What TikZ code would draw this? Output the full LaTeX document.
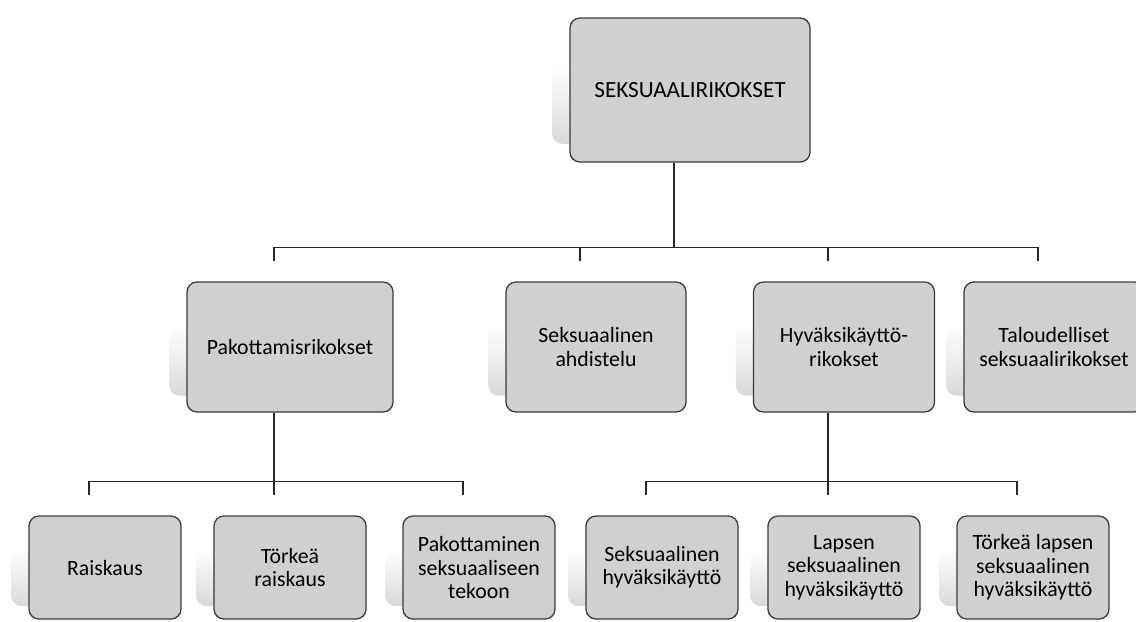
\documentclass[tikz,border=0pt]{standalone}
\usepackage{fontspec}
\setmainfont{Carlito}
\usetikzlibrary{calc}
\pgfdeclarelayer{bg}
\pgfsetlayers{bg,main}
\definecolor{boxfill}{RGB}{208,208,208}
\definecolor{boxline}{RGB}{58,58,58}
\definecolor{shadowgray}{RGB}{216,216,216}
\tikzset{
    box/.style={rectangle, rounded corners=0.25cm, draw=boxline, fill=boxfill,
    	line width=0.9pt, align=center, inner sep=2pt,
    	font=\fontsize{15.5}{16.6}\selectfont},
    rowone/.style={box, minimum height=3.25cm},
    rowtwo/.style={box, minimum width=3.8cm, minimum height=2.575cm},
    conn/.style={draw=black!85, line width=0.9pt}
}

\begin{document}
\begin{tikzpicture}[x=0.025cm, y=-0.025cm]
  \useasboundingbox (0, 0) rectangle (1136, 621);
  \clip (0, 0) rectangle (1136, 621);

  \node (top) [box, minimum width=6cm, minimum height=3.6cm,
    font=\fontsize{16.5}{18}\selectfont] at (690, 90) {SEKSUAALIRIKOKSET};

  \node (pak) [rowone, minimum width=5.15cm] at (290, 347) {Pakottamisrikokset};
  \node (ahd) [rowone, minimum width=4.5cm] at (596, 347) {Seksuaalinen\\ahdistelu};
  \node (hyv) [rowone, minimum width=4.525cm] at (844, 347) {Hyväksikäyttö-\\rikokset};
  \node (tal) [rowone, minimum width=4.5cm] at (1054, 347) {Taloudelliset\\seksuaalirikokset};

  \node (rai) [rowtwo] at (105, 567.5) {Raiskaus};
  \node (tra) [rowtwo] at (290, 567.5) {Törkeä\\raiskaus};
  \node (pst) [rowtwo] at (479, 567.5) {Pakottaminen\\seksuaaliseen\\tekoon};
  \node (shk) [rowtwo] at (662, 567.5) {Seksuaalinen\\hyväksikäyttö};
  \node (lsh) [rowtwo] at (844, 567.5) {Lapsen\\seksuaalinen\\hyväksikäyttö};
  \node (tlsh) [rowtwo] at (1033, 567.5) {Törkeä lapsen\\seksuaalinen\\hyväksikäyttö};

  \begin{pgfonlayer}{bg}
    \foreach \n in {top, pak, ahd, hyv, tal, rai, tra, pst, shk, lsh, tlsh}
      \shade [rounded corners=0.25cm, top color=white, bottom color=shadowgray]
        ($(\n.north west)!0.34!(\n.south west) + (-17, 0)$) rectangle
        ($(\n.south east)!0.13!(\n.north east) + (-17, 0)$);
  \end{pgfonlayer}

  \foreach \c in {pak, ahd, hyv, tal}
    \draw [conn] ([xshift=-4mm]top.south) |- ([xshift=-4mm, yshift=8.5mm]\c.north)
      -- ([xshift=-4mm, yshift=5mm]\c.north);
  \foreach \c in {rai, tra, pst}
    \draw [conn] ([xshift=-4mm]pak.south) |- ([xshift=-4mm, yshift=8.5mm]\c.north)
      -- ([xshift=-4mm, yshift=5mm]\c.north);
  \foreach \c in {shk, lsh, tlsh}
    \draw [conn] ([xshift=-4mm]hyv.south) |- ([xshift=-4mm, yshift=8.5mm]\c.north)
      -- ([xshift=-4mm, yshift=5mm]\c.north);
\end{tikzpicture}
\end{document}
